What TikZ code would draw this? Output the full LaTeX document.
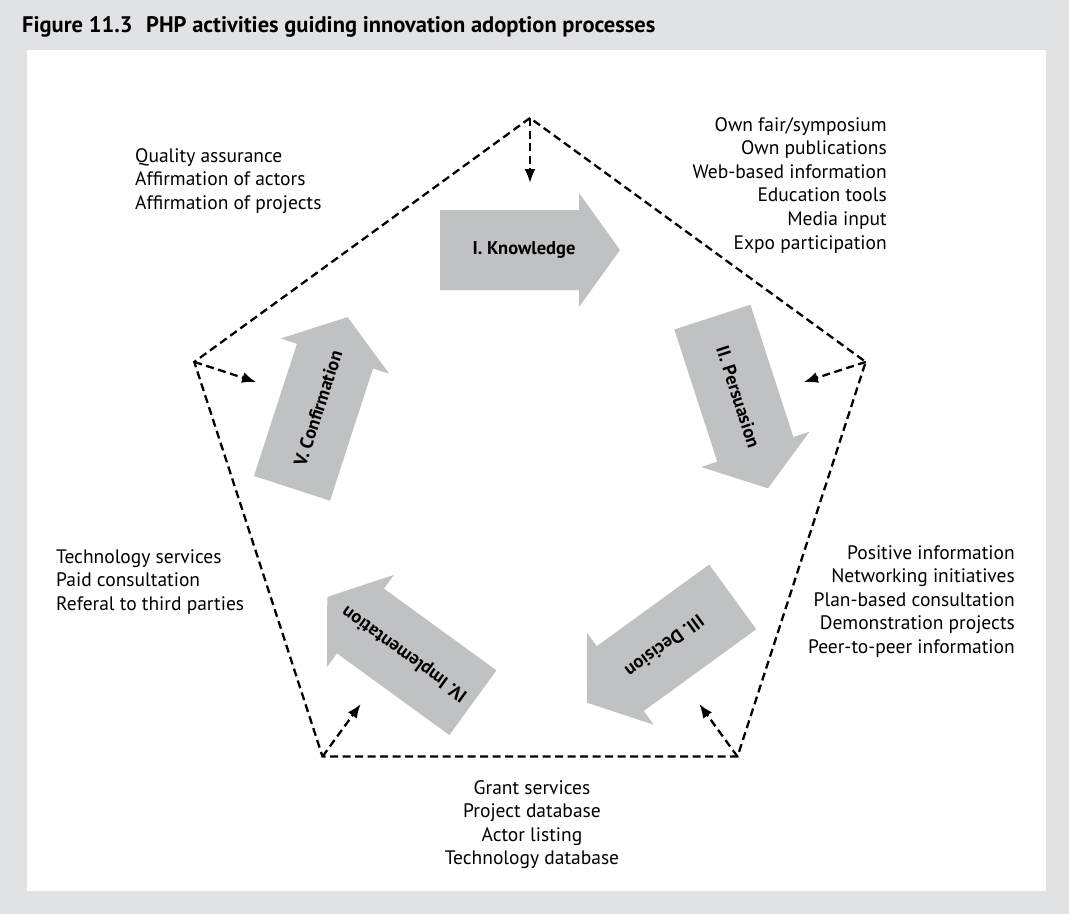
\documentclass[tikz,border=0pt]{standalone}
\usepackage{fontspec}
\setmainfont{PT Sans}
\usetikzlibrary{arrows.meta,calc}
\definecolor{bggray}{RGB}{225,226,227}
\definecolor{arrowgray}{RGB}{192,193,195}
\begin{document}
\begin{tikzpicture}[x=1pt,y=-1pt,
  blocktext/.style={font=\fontsize{19.5}{23.6}\selectfont, inner sep=0pt},
  arrowlabel/.style={font=\fontsize{18.5}{21}\selectfont\bfseries, inner sep=0pt},
  penta/.style={line width=2.3pt, dash pattern=on 8pt off 4.5pt},
  pointer/.style={penta, -{Latex[length=14pt,width=11pt]}},
  stagearrow/.style={fill=arrowgray}]
\fill[bggray] (0,0) rectangle (1069,914);
\useasboundingbox (0,0) rectangle (1069,914);
\fill[white] (27,50) rectangle (1046,891);
\node[anchor=west, inner sep=0pt, font=\fontsize{22.5}{26}\selectfont\bfseries] (title) at (22,27)
  {Figure 11.3\hspace{0.6em}PHP activities guiding innovation adoption processes};
\foreach \k/\lab in {0/{I. Knowledge},1/{V. Confirmation},2/{IV. Implementation},3/{III. Decision},4/{II. Persuasion}}{
  \begin{scope}[rotate around={72*\k:(530,471)}]
    \coordinate (v\k) at (530,118);
    \coordinate (t\k) at (530,183);
    \fill[stagearrow] (440,210) -- (579,210) -- (579,193) -- (620,250) -- (579,307) -- (579,290) -- (440,290) -- cycle;
    \node[arrowlabel, transform shape] (a\k) at (524,250) {\lab};
  \end{scope}
}
\draw[penta] (v0) -- (v1) -- (v2) -- (v3) -- (v4) -- cycle;
\foreach \k in {0,...,4}{
  \draw[pointer] (v\k) -- (t\k);
}
\node[blocktext, align=right, anchor=north east] (know) at (887,117)
  {Own fair/symposium\\Own publications\\Web-based information\\Education tools\\Media input\\Expo participation};
\node[blocktext, align=left, anchor=north west] (conf) at (135,148)
  {Quality assurance\\Affirmation of actors\\Affirmation of projects};
\node[blocktext, align=right, anchor=north east] (pers) at (1015,545)
  {Positive information\\Networking initiatives\\Plan-based consultation\\Demonstration projects\\Peer-to-peer information};
\node[blocktext, align=left, anchor=north west] (impl) at (56,549)
  {Technology services\\Paid consultation\\Referal to third parties};
\node[blocktext, align=center, anchor=north] (deci) at (532,780)
  {Grant services\\Project database\\Actor listing\\Technology database};
\end{tikzpicture}
\end{document}
